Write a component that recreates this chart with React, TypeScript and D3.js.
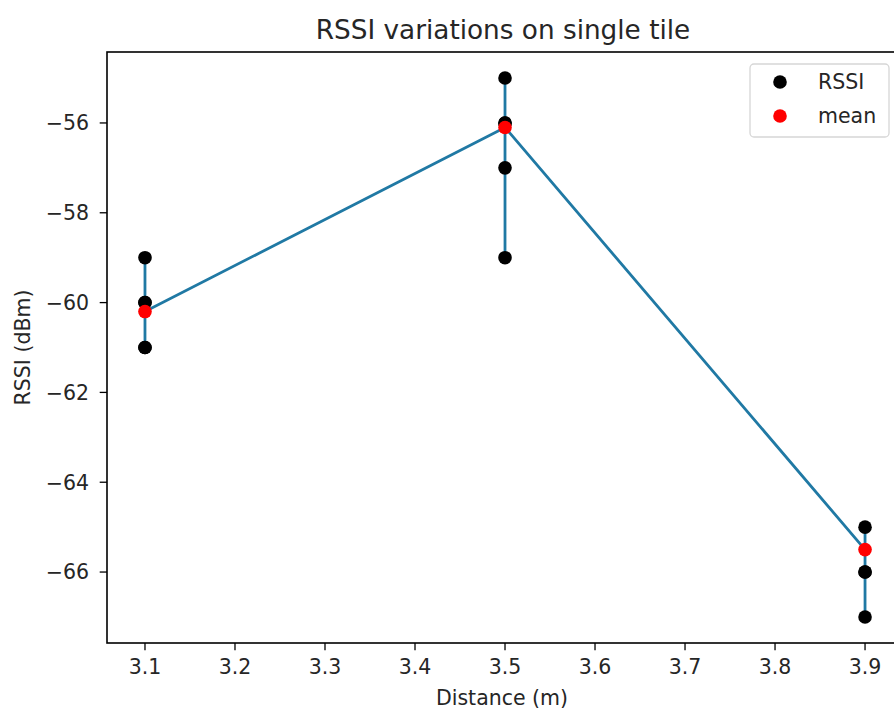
import React from "react";
import * as d3 from "d3";

const distances = [3.1, 3.5, 3.9];
const rssi31 = [-59, -60, -60, -61, -61];
const rssi35 = [-55, -56, -56, -57, -59];
const rssi39 = [-65, -66, -66, -67];
const rssiSeries = [rssi31, rssi35, rssi39];
const means = [-60.2, -56.1, -65.5];
const xTicks = [3.1, 3.2, 3.3, 3.4, 3.5, 3.6, 3.7, 3.8, 3.9];
const yTicks = [-66, -64, -62, -60, -58, -56];
const legendLabels = ["RSSI", "mean"];

const W = 894;
const H = 713;
const FONT = "DejaVu Sans, sans-serif";
const LINE = "#2079a4";

export default function App() {
  const x = d3.scaleLinear().domain([3.0578, 3.9344]).range([107, 896]);
  const y = d3.scaleLinear().domain([-67.58, -54.42]).range([643, 52]);
  const line = d3
    .line<number>()
    .x((_, i) => x(distances[i]))
    .y((d) => y(d));
  const fmt = (v: number) => (v < 0 ? "\u2212" + Math.abs(v) : String(v));
  const tickLen = 7.3;
  const fs = 20.5;
  const r = 6.8;

  return (
    <svg
      width={W}
      height={H}
      style={{ position: "absolute", left: 0, top: 0, background: "#fff" }}
      fontFamily={FONT}
    >
      <rect x={0} y={0} width={W} height={H} fill="#fff" />
      {/* vertical ranges */}
      {rssiSeries.map((vals, i) => (
        <line
          key={"v" + i}
          x1={x(distances[i])}
          x2={x(distances[i])}
          y1={y(d3.max(vals)!)}
          y2={y(d3.min(vals)!)}
          stroke={LINE}
          strokeWidth={2.8}
        />
      ))}
      <path d={line(means)!} fill="none" stroke={LINE} strokeWidth={2.8} />
      {/* RSSI points */}
      {rssiSeries.map((vals, i) =>
        vals.map((v, j) => (
          <circle key={"p" + i + "-" + j} cx={x(distances[i])} cy={y(v)} r={r} fill="#000" />
        ))
      )}
      {/* means */}
      {means.map((m, i) => (
        <circle key={"m" + i} cx={x(distances[i])} cy={y(m)} r={r} fill="#ff0000" />
      ))}
      {/* axes spines */}
      <rect x={107} y={52} width={789} height={591} fill="none" stroke="#000" strokeWidth={1.6} />
      {/* x ticks */}
      {xTicks.map((t) => (
        <g key={"xt" + t}>
          <line x1={x(t)} x2={x(t)} y1={643} y2={643 + tickLen} stroke="#000" strokeWidth={1.3} />
          <text x={x(t)} y={674} textAnchor="middle" fontSize={fs} fill="#262626">
            {t.toFixed(1)}
          </text>
        </g>
      ))}
      {/* y ticks */}
      {yTicks.map((t) => (
        <g key={"yt" + t}>
          <line x1={107 - tickLen} x2={107} y1={y(t)} y2={y(t)} stroke="#000" strokeWidth={1.3} />
          <text x={89} y={y(t)} dy="0.36em" textAnchor="end" fontSize={fs} fill="#262626">
            {fmt(t)}
          </text>
        </g>
      ))}
      {/* labels */}
      <text x={503} y={39} textAnchor="middle" fontSize={26.3} fill="#262626">
        RSSI variations on single tile
      </text>
      <text x={502} y={705} textAnchor="middle" fontSize={fs} fill="#262626">
        Distance (m)
      </text>
      <text
        transform={`translate(30, 347.5) rotate(-90)`}
        textAnchor="middle"
        fontSize={fs}
        fill="#262626"
      >
        RSSI (dBm)
      </text>
      {/* legend */}
      <rect x={750} y={64} width={139} height={73} rx={4} fill="#fff" fillOpacity={0.8} stroke="#d6d6d6" strokeWidth={1.3} />
      {legendLabels.map((lab, i) => (
        <g key={"lg" + lab}>
          <circle cx={780} cy={82 + i * 34} r={r} fill={i === 0 ? "#000" : "#ff0000"} />
          <text x={818} y={82 + i * 34} dy="0.36em" fontSize={fs} fill="#262626">
            {lab}
          </text>
        </g>
      ))}
    </svg>
  );
}
